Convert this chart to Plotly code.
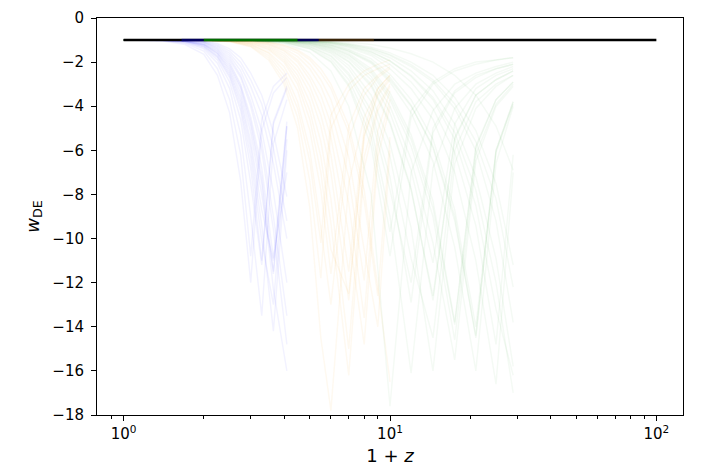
import plotly.graph_objects as go

# grids of 1+z for each family of curves
x_blue = [1.0, 1.4, 1.7, 2.0, 2.25, 2.5, 2.75, 3.0, 3.3, 3.65, 4.1]
x_orange = [1.0, 2.0, 2.5, 3.0, 3.5, 4.0, 4.5, 5.0, 5.5, 6.0, 7.0, 8.0, 9.0, 10.0]
x_green = [1.0, 3.0, 4.0, 5.0, 6.0, 7.0, 8.5, 10, 12, 14.5, 17.5, 21, 25, 29]

w_blue = [
    [-1, -1.0, -1.05, -1.2, -1.6, -2.3, -3.4, -5.2, -8.0, -11.5, -4.9],
    [-1, -1.0, -1.03, -1.1, -1.35, -1.8, -2.6, -3.8, -5.6, -9.0, -13.5],
    [-1, -1.02, -1.1, -1.35, -1.9, -2.9, -4.6, -7.5, -11.2, -4.8, -3.2],
    [-1, -1.0, -1.02, -1.08, -1.25, -1.6, -2.2, -3.1, -4.4, -6.6, -10.0],
    [-1, -1.01, -1.06, -1.25, -1.7, -2.5, -3.8, -5.9, -9.4, -14.2, -6.0],
    [-1, -1.03, -1.15, -1.5, -2.3, -3.7, -6.2, -10.8, -4.6, -3.1, -2.5],
    [-1, -1.0, -1.04, -1.15, -1.45, -2.0, -3.0, -4.5, -6.8, -10.9, -7.0],
    [-1, -1.0, -1.01, -1.05, -1.15, -1.4, -1.8, -2.5, -3.5, -5.2, -8.1],
    [-1, -1.02, -1.08, -1.3, -1.8, -2.7, -4.2, -6.8, -11.0, -4.7, -3.1],
    [-1, -1.0, -1.05, -1.2, -1.55, -2.2, -3.2, -4.9, -7.5, -12.3, -16.0],
    [-1, -1.04, -1.2, -1.65, -2.6, -4.3, -7.4, -12.0, -5.1, -3.4, -2.7],
    [-1, -1.0, -1.03, -1.12, -1.4, -1.9, -2.7, -4.0, -6.0, -9.6, -14.8],
    [-1, -1.01, -1.07, -1.28, -1.75, -2.6, -4.0, -6.3, -10.1, -13.0, -5.5],
    [-1, -1.0, -1.02, -1.1, -1.3, -1.7, -2.4, -3.5, -5.1, -7.9, -12.0],
    [-1, -1.02, -1.12, -1.4, -2.05, -3.2, -5.3, -9.0, -13.5, -5.7, -3.7],
    [-1, -1.0, -1.04, -1.18, -1.5, -2.1, -3.1, -4.7, -7.2, -11.6, -4.9],
    [-1, -1.01, -1.05, -1.22, -1.62, -2.4, -3.6, -5.6, -8.7, -11.0, -4.7],
    [-1, -1.0, -1.01, -1.06, -1.2, -1.5, -2.0, -2.8, -3.9, -5.9, -9.2],
]

w_orange = [
    [-1, -1.0, -1.02, -1.08, -1.25, -1.6, -2.2, -3.1, -4.4, -6.2, -11.5, -5.0, -3.2, -2.6],
    [-1, -1.0, -1.05, -1.2, -1.6, -2.4, -3.8, -6.0, -9.5, -13.0, -5.5, -3.5, -2.7, -2.3],
    [-1, -1.0, -1.01, -1.04, -1.12, -1.3, -1.6, -2.1, -2.8, -3.7, -6.3, -10.5, -14.0, -6.0],
    [-1, -1.01, -1.08, -1.3, -1.9, -3.0, -5.0, -8.6, -14.5, -17.8, -7.5, -4.5, -3.2, -2.6],
    [-1, -1.0, -1.03, -1.12, -1.35, -1.8, -2.6, -3.8, -5.6, -8.2, -15.0, -6.3, -4.0, -3.0],
    [-1, -1.0, -1.02, -1.06, -1.18, -1.45, -1.9, -2.6, -3.5, -4.8, -8.4, -13.6, -5.8, -3.7],
    [-1, -1.0, -1.06, -1.25, -1.7, -2.6, -4.1, -6.5, -10.2, -4.4, -3.0, -2.4, -2.1, -1.9],
    [-1, -1.0, -1.01, -1.03, -1.09, -1.22, -1.45, -1.8, -2.3, -3.0, -4.9, -7.8, -12.2, -16.5],
    [-1, -1.0, -1.04, -1.16, -1.45, -2.0, -3.0, -4.6, -7.0, -10.5, -12.5, -5.3, -3.4, -2.7],
    [-1, -1.0, -1.02, -1.1, -1.3, -1.7, -2.4, -3.4, -4.9, -7.0, -12.8, -5.4, -3.5, -2.8],
    [-1, -1.01, -1.07, -1.28, -1.8, -2.8, -4.5, -7.4, -11.8, -5.0, -3.3, -2.6, -2.3, -2.1],
    [-1, -1.0, -1.01, -1.05, -1.15, -1.38, -1.75, -2.3, -3.1, -4.2, -7.2, -11.9, -5.1, -3.3],
    [-1, -1.0, -1.03, -1.14, -1.4, -1.9, -2.8, -4.2, -6.3, -9.3, -16.2, -6.8, -4.2, -3.1],
    [-1, -1.0, -1.02, -1.07, -1.2, -1.5, -2.0, -2.8, -3.9, -5.4, -9.8, -14.8, -6.3, -4.0],
    [-1, -1.0, -1.05, -1.2, -1.55, -2.2, -3.3, -5.1, -7.8, -11.6, -4.9, -3.2, -2.6, -2.2],
    [-1, -1.0, -1.01, -1.04, -1.1, -1.25, -1.5, -1.9, -2.5, -3.2, -5.2, -8.3, -12.6, -5.4],
]

w_green = [
    [-1, -1.0, -1.02, -1.06, -1.14, -1.28, -1.55, -1.95, -2.6, -3.6, -5.2, -7.8, -12.0, -17.0],
    [-1, -1.01, -1.06, -1.2, -1.5, -2.0, -3.1, -4.8, -7.8, -12.6, -5.5, -3.5, -2.8, -2.4],
    [-1, -1.0, -1.03, -1.1, -1.25, -1.5, -2.0, -2.8, -4.0, -5.8, -9.0, -14.5, -6.0, -3.8],
    [-1, -1.02, -1.12, -1.4, -2.0, -3.1, -5.8, -10.8, -4.5, -3.0, -2.4, -2.1, -1.9, -1.8],
    [-1, -1.0, -1.01, -1.04, -1.1, -1.2, -1.4, -1.7, -2.2, -2.9, -4.1, -6.0, -9.2, -13.8],
    [-1, -1.0, -1.04, -1.14, -1.35, -1.7, -2.5, -3.7, -5.8, -9.0, -14.6, -6.2, -3.9, -3.0],
    [-1, -1.01, -1.08, -1.28, -1.7, -2.5, -4.2, -7.2, -12.9, -5.2, -3.4, -2.7, -2.3, -2.1],
    [-1, -1.0, -1.02, -1.07, -1.17, -1.35, -1.7, -2.3, -3.2, -4.6, -7.0, -11.0, -16.6, -7.0],
    [-1, -1.0, -1.05, -1.17, -1.42, -1.85, -2.8, -4.3, -6.9, -11.1, -4.8, -3.2, -2.6, -2.3],
    [-1, -1.03, -1.16, -1.55, -2.4, -4.0, -8.0, -17.6, -7.0, -4.2, -3.0, -2.5, -2.2, -2.0],
    [-1, -1.0, -1.01, -1.03, -1.08, -1.16, -1.32, -1.58, -2.0, -2.6, -3.6, -5.1, -7.5, -11.2],
    [-1, -1.0, -1.03, -1.12, -1.3, -1.6, -2.3, -3.4, -5.3, -8.3, -13.8, -5.8, -3.7, -2.9],
    [-1, -1.01, -1.07, -1.24, -1.6, -2.3, -3.8, -6.3, -10.9, -14.5, -6.0, -3.8, -3.0, -2.6],
    [-1, -1.0, -1.02, -1.08, -1.2, -1.42, -1.85, -2.55, -3.7, -5.5, -8.7, -14.0, -6.0, -3.8],
    [-1, -1.0, -1.01, -1.05, -1.12, -1.25, -1.52, -1.95, -2.65, -3.7, -5.5, -8.5, -13.2, -16.2],
    [-1, -1.02, -1.1, -1.34, -1.85, -2.8, -5.0, -9.0, -16.1, -6.8, -4.1, -3.0, -2.5, -2.2],
    [-1, -1.0, -1.03, -1.1, -1.26, -1.52, -2.05, -2.9, -4.3, -6.5, -10.4, -16.0, -6.6, -4.0],
    [-1, -1.0, -1.04, -1.15, -1.38, -1.78, -2.65, -4.0, -6.4, -10.2, -15.5, -6.5, -4.0, -3.1],
    [-1, -1.01, -1.09, -1.3, -1.75, -2.6, -4.5, -7.8, -12.0, -5.0, -3.3, -2.6, -2.3, -2.1],
    [-1, -1.0, -1.02, -1.06, -1.15, -1.3, -1.62, -2.1, -2.9, -4.1, -6.1, -9.4, -14.8, -6.2],
    [-1, -1.0, -1.01, -1.02, -1.05, -1.1, -1.2, -1.36, -1.62, -2.0, -2.6, -3.5, -4.9, -6.9],
    [-1, -1.0, -1.05, -1.18, -1.46, -1.95, -3.0, -4.7, -7.7, -12.8, -5.4, -3.5, -2.8, -2.4],
    [-1, -1.0, -1.02, -1.05, -1.11, -1.22, -1.45, -1.8, -2.4, -3.3, -4.8, -7.2, -10.9, -15.8],
    [-1, -1.02, -1.11, -1.38, -1.95, -3.0, -5.4, -9.7, -4.2, -2.9, -2.3, -2.0, -1.9, -1.8],
    [-1, -1.0, -1.03, -1.09, -1.22, -1.45, -1.95, -2.7, -3.95, -5.9, -9.2, -14.4, -6.1, -3.9],
    [-1, -1.0, -1.01, -1.04, -1.09, -1.18, -1.37, -1.66, -2.12, -2.8, -3.9, -5.6, -8.2, -12.2],
    [-1, -1.0, -1.04, -1.13, -1.33, -1.66, -2.4, -3.55, -5.5, -8.6, -13.9, -5.9, -3.7, -2.9],
    [-1, -1.01, -1.06, -1.22, -1.55, -2.15, -3.5, -5.7, -9.5, -16.0, -6.6, -4.1, -3.1, -2.6],
]

# LCDM reference
x_lcdm = [1.0, 100.0]
w_lcdm = [-1.0, -1.0]

# coloured stretches sitting on top of the reference line
top_blue_x = [1.65, 2.0]
top_green_x = [2.0, 4.5]
top_blue2_x = [4.5, 5.4]
top_orange_x = [5.4, 8.7]

fig = go.Figure()

families = [
    (x_blue, w_blue, "rgba(0,0,255,0.05)"),
    (x_orange, w_orange, "rgba(230,160,0,0.06)"),
    (x_green, w_green, "rgba(0,128,0,0.045)"),
]
for xs, curves, col in families:
    for ws in curves:
        fig.add_trace(go.Scatter(x=xs, y=ws, mode="lines",
                                 line=dict(color=col, width=1.5),
                                 hoverinfo="skip", showlegend=False))

fig.add_trace(go.Scatter(x=x_lcdm, y=w_lcdm, mode="lines",
                         line=dict(color="black", width=2.6), showlegend=False))

for xs, col in [(top_blue_x, "rgba(0,0,200,0.45)"),
                (top_green_x, "rgba(0,128,0,0.85)"),
                (top_blue2_x, "rgba(0,0,200,0.4)"),
                (top_orange_x, "rgba(160,100,20,0.35)")]:
    fig.add_trace(go.Scatter(x=xs, y=[-1, -1], mode="lines",
                             line=dict(color=col, width=2.6), showlegend=False))

font = dict(family="DejaVu Sans", size=15, color="black")

# the page body adds an 8px offset, so margins are trimmed by that amount
fig.update_layout(
    width=714, height=474,
    margin=dict(l=89, r=39, t=10, b=67),
    paper_bgcolor="white", plot_bgcolor="white",
    font=font,
    showlegend=False,
)

fig.update_xaxes(
    type="log", range=[-0.1, 2.1],
    tickmode="array", tickvals=[1, 10, 100],
    ticktext=["10<sup>0</sup>", "10<sup>1</sup>", "10<sup>2</sup>"],
    ticks="outside", ticklen=5, tickwidth=1, tickcolor="black",
    minor=dict(tickmode="array",
               tickvals=[0.9, 2, 3, 4, 5, 6, 7, 8, 9, 20, 30, 40, 50, 60, 70, 80, 90],
               ticks="outside", ticklen=3, tickwidth=0.8, tickcolor="black", showgrid=False),
    showline=True, linecolor="black", linewidth=1, mirror=True,
    showgrid=False, zeroline=False, automargin=False,
    title=dict(text="1 + <i>z</i>", standoff=7),
)

fig.update_yaxes(
    range=[-18, 0], dtick=2,
    ticks="outside", ticklen=5, tickwidth=1, tickcolor="black",
    ticklabelstandoff=4,
    showline=True, linecolor="black", linewidth=1, mirror=True,
    showgrid=False, zeroline=False, automargin=False,
    title=dict(text="<i>w</i><sub>DE</sub>", standoff=8),
)

fig.write_html("out.html")
